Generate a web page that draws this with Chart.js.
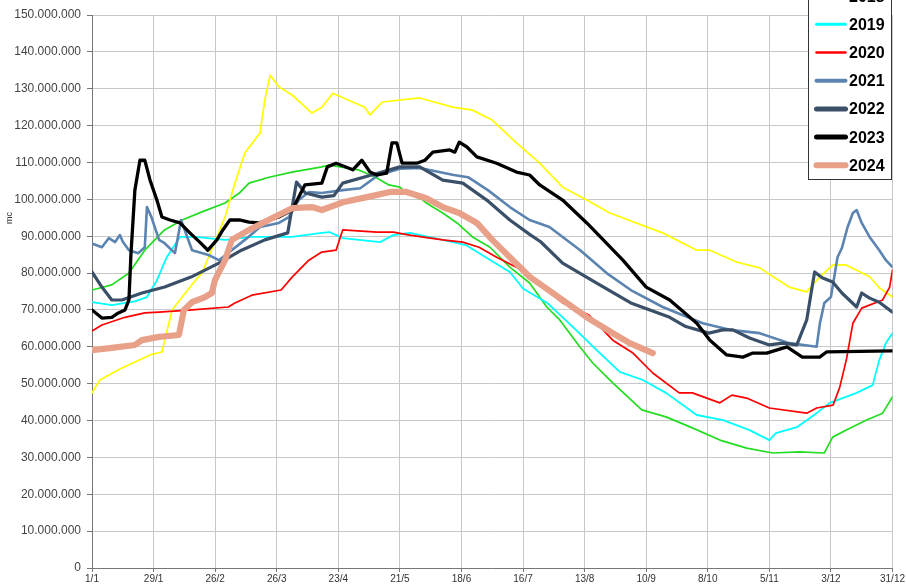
<!DOCTYPE html>
<html><head><meta charset="utf-8">
<script src="https://cdn.jsdelivr.net/npm/chart.js@4"></script>
<style>html,body{margin:0;padding:0;background:#fff;overflow:hidden}</style>
</head><body>
<canvas id="c" width="906" height="586"></canvas>
<script>
// x tick labels (every 28 days, day 0 = 1/1)
const tickLabels = ['1/1','29/1','26/2','26/3','23/4','21/5','18/6','16/7','13/8','10/9','8/10','5/11','3/12','31/12'];
const seriesNames = ['2017','2018','2019','2020','2021','2022','2023','2024'];

// values in millions of mc, days from 1/1
const days2017 = [0,9,16.8,24,33,41,50,60.5,67,71.4,80.5,91,104.5,108,121,129,135,140,143,150.5,152,159.5,166,173,181,190,199,206.8,212.7,221.8,227.7,236.8,250,261,273,285.5,297.7,309.5,321.8,333,336.8,343,352,359.5,364];
const vals2017 = [75.4,76.8,80,86.2,91.7,94.4,96.6,99,101.7,104.4,106,107.4,108.8,109.3,108,106,103.9,103.3,101.7,99.8,99,96.3,93.6,89.8,87,81.6,77.3,70.8,67.3,60,55.6,50.2,42.9,41,38,34.7,32.5,31.2,31.5,31.2,35.5,37.4,40.1,42,46.4];

const days2018 = [0,3.6,12.7,26.4,31.8,34,36.4,41,47,50,60.5,65,69.5,76.4,78.6,81,85,91,100,104.5,109.5,118.6,124,126.4,132,149,164,173,182,193,203.6,214,225,235.5,259.5,275,281,293,303.6,317,325,331,337,343,353.6,358,364];
const vals2018 = [47.5,51,54,57.8,58.6,64,70,73.5,78,80,95.2,104.4,112.6,118,127,133.7,130.5,128.3,123.4,125,128.8,126.4,125,122.9,126.4,127.5,125,124.2,121.5,115.3,109.8,103.3,99.8,96.3,90.9,86.2,86.2,83,81.4,76.2,74.9,79,82.2,82.2,79,76,73.5];

const days2019 = [0,9,19.5,25,29.5,34,40,46.8,60.5,72.7,91,104.5,108,114,131,137,144.5,159.5,170,179,190,196,207,218.6,229.5,240,250.5,261,275,287,299,308,311,320.5,329.5,335.5,347.7,355,358,361,364];
const vals2019 = [72.1,71.3,72.3,73.5,78,84.3,89.8,89.8,89,89.8,89.8,90.9,91.1,89.5,88.4,90.3,90.9,89,87.6,84.3,80.3,75.8,71.9,65.4,59.1,53.2,51,47.5,41.5,40.1,37.4,34.7,36.6,38.2,42,44.8,47.5,49.6,56.4,61,63.7];

const days2020 = [0,4.5,15,24,30.5,45.5,62,65,72.7,86,91,98.6,104.5,111,114,129.5,137,144.5,159.5,168.6,176,184,193,199,214,226,236.8,246,255,267,273,285.5,291,297.7,308,325,329.5,337,340,343,346,350,359.5,362.7,364];
const vals2020 = [64.3,65.9,68,69.2,69.4,70,70.8,71.9,74,75.4,78.9,83.5,85.7,86.2,91.7,91.1,91.1,90.3,89,88.4,87,84.3,81.6,79,71.9,68.6,61.8,58.3,52.9,47.5,47.5,44.8,46.9,46.1,43.4,42,43.4,44.2,49,56.4,66.4,70.5,72.7,76.2,80.8];

const days2021 = [0,4.5,7.7,10.5,12.7,14,16.8,21,24,25,27,30.5,33,37.7,40.5,45.5,53,57.7,69.5,76.4,85,89.5,94,98.6,104.5,114,122,130,140,149,164.5,171,180,190,199,208,222,234,245,259.5,277.7,290,303.6,317,329.5,331,333,336,339,341,343.6,346,347.7,350,353.6,358,361,364];
const vals2021 = [88,87,89.5,88.4,90.3,88.5,86.2,85.4,87,97.9,95.2,89,88.1,85.4,94.4,86.2,84.9,83.5,89,92.5,93.6,95.2,99.8,102,101.7,102.5,103,106.5,108.3,108.5,106.6,106,102.5,97.9,94.4,92.5,86.2,80,75.4,70.8,66.4,64.6,63.7,61,60,66.4,71.9,73.5,84.3,86.8,92.5,96.3,97.1,93.6,89.8,86.2,83.5,81.6];

const days2022 = [0,4.5,9,13.6,22.7,33,45,57.7,68,78.6,89,93,97,104.5,110,114,129.5,140,149,159.5,168.6,179.5,190,199,204,214,229.5,245,262.7,270,280.5,286.8,291.4,299,308,314,320.5,325,327,328.6,332,336.8,341,347.7,350,353.6,358,364];
const vals2022 = [80.3,76.2,72.7,72.7,74.6,76.2,78.9,82.7,86.2,89,90.9,104.7,101.7,100.6,101,104.4,107,108.8,108.8,105.2,104.4,99.8,94.4,90.5,88.5,82.7,77.3,71.9,68,65.5,63.7,64.6,64.6,62.4,60.5,61,60.5,67.3,74.6,80.3,78.7,77.6,74.6,70.8,74.6,73.2,72.1,69.4];

const days2023 = [0,4.5,9,12,15,16.8,17.7,19.5,21.8,24,26.4,29.5,31.8,35.5,40,44.5,49,52.7,56.8,59.5,62.7,67,71.4,76,80.5,85,91,96.8,104.5,107,111,118.6,122.7,126.4,129.5,134,136.4,138.6,141,147.7,151.4,155,162.7,165,167,170.5,175,184,193,199,203.6,214,225,241.4,252,262.7,275,281,288.6,296,300.5,306.8,316,323,330.9,334,364];
const vals2023 = [70,67.8,68,69.2,70,72.7,85,102.5,110.6,110.6,105.2,99.8,95.2,94.4,93.6,90.9,88.4,86.2,89,91.7,94.4,94.4,93.8,93.6,94.4,95.2,97.1,103.9,104.4,108.8,109.8,108,110.6,107.4,106.6,107.1,115.3,115.3,109.8,109.8,110.6,112.8,113.4,112.8,115.5,114.2,111.5,109.8,107.4,106.6,103.9,99.8,93.6,83.5,76.2,72.7,66.4,61.8,57.8,57.2,58.3,58.3,60,57.2,57.2,58.6,58.9];

const days2024 = [0,9,19.5,22.7,30.5,39.5,41.8,45.5,51.4,54.5,55.9,60.5,63.6,71.4,81.8,91,100,104.5,114,125,135.5,143,152,159.5,167,175,182,190,199,214,225,236.8,244.5,255];
const vals2024 = [59.1,59.7,60.5,61.8,62.7,63.2,70,72.1,73.5,74.6,78.1,83.5,89,91.7,94.9,97.6,97.9,97.1,99.2,100.6,102,102,100.3,97.9,96.3,93.6,89,84.3,79,72.7,68,63.7,61,58.3];

const allDays = [days2017,days2018,days2019,days2020,days2021,days2022,days2023,days2024];
const allVals = [vals2017,vals2018,vals2019,vals2020,vals2021,vals2022,vals2023,vals2024];

const colors = ['#22dd22','#ffff00','#00ffff','#ff0000','#5b84b1','#3a5068','#000000','#e9a088'];
const widths = [1.7,1.7,1.8,1.7,2.6,3.2,3.3,6.2];
const legendWidths = [2.5,2.5,3,2.5,4,5,5,6];

const datasets = seriesNames.map((name,i)=>({
  label: name,
  data: allDays[i].map((d,k)=>({x:d, y:allVals[i][k]*1e6})),
  borderColor: colors[i],
  backgroundColor: colors[i],
  borderWidth: widths[i],
  legendWidth: legendWidths[i],
  pointRadius: 0,
  tension: 0,
  fill: false,
  borderJoinStyle: 'round',
  borderCapStyle: 'round',
  order: seriesNames.length - i
}));

function fmt(v){ return String(Math.round(v)).replace(/\B(?=(\d{3})+(?!\d))/g,'.'); }

const overlay = {
  id:'overlay',
  afterDraw(chart){
    const ctx = chart.ctx;
    ctx.save();
    ctx.translate(10, 218);
    ctx.rotate(-Math.PI/2);
    ctx.font = '9px "Liberation Sans", Arial, sans-serif';
    ctx.fillStyle = '#333';
    ctx.textAlign = 'center';
    ctx.textBaseline = 'middle';
    ctx.fillText('mc', 0, 0);
    ctx.restore();

    ctx.save();
    const ds = chart.data.datasets;
    const n = ds.length;
    const rowH = 28.2;
    const lastY = 165.3;
    const firstY = lastY - (n-1)*rowH;
    const x0 = 808, x1 = 891, yb = 179;
    const yt = firstY - 20;
    ctx.fillStyle = '#fff';
    ctx.fillRect(x0, yt, x1-x0, yb-yt);
    ctx.strokeStyle = '#333';
    ctx.lineWidth = 1;
    ctx.strokeRect(x0+0.5, yt+0.5, x1-x0, yb-yt);
    ds.forEach((d,i)=>{
      const y = firstY + i*rowH;
      ctx.beginPath();
      ctx.lineCap = 'round';
      ctx.strokeStyle = d.borderColor;
      ctx.lineWidth = d.legendWidth;
      ctx.moveTo(816.5, y); ctx.lineTo(845.5, y);
      ctx.stroke();
      ctx.fillStyle = '#000';
      ctx.font = 'bold 16px "Liberation Sans", Arial, sans-serif';
      ctx.textAlign = 'left';
      ctx.textBaseline = 'middle';
      ctx.fillText(d.label, 849, y+1);
    });
    ctx.restore();
  }
};

new Chart(document.getElementById('c'), {
  type: 'line',
  data: { datasets },
  plugins: [overlay],
  options: {
    responsive: false,
    animation: false,
    devicePixelRatio: 1,
    layout: { padding: { top: 15, right: 13, left: 0, bottom: 0 } },
    plugins: { legend: { display: false }, tooltip: { enabled: false } },
    scales: {
      x: {
        type: 'linear', min: 0, max: 364,
        afterFit: s => { s.height = 18; },
        ticks: {
          stepSize: 28, autoSkip: false, maxRotation: 0,
          callback: v => tickLabels[Math.round(v/28)],
          font: { size: 10, family: '"Liberation Sans", Arial, sans-serif' },
          color: '#333', padding: 1
        },
        grid: { color: '#c8c8c8', lineWidth: 1, tickLength: 4, tickColor: '#777' },
        border: { color: '#777' }
      },
      y: {
        min: 0, max: 150e6,
        afterFit: s => { s.width = 92; },
        ticks: {
          stepSize: 10e6,
          callback: v => fmt(v),
          font: { size: 12, family: '"Liberation Sans", Arial, sans-serif' },
          color: '#444', padding: 6
        },
        grid: { color: '#c8c8c8', lineWidth: 1, tickLength: 5, tickColor: '#777' },
        border: { color: '#777' }
      }
    }
  }
});
</script>
</body></html>
